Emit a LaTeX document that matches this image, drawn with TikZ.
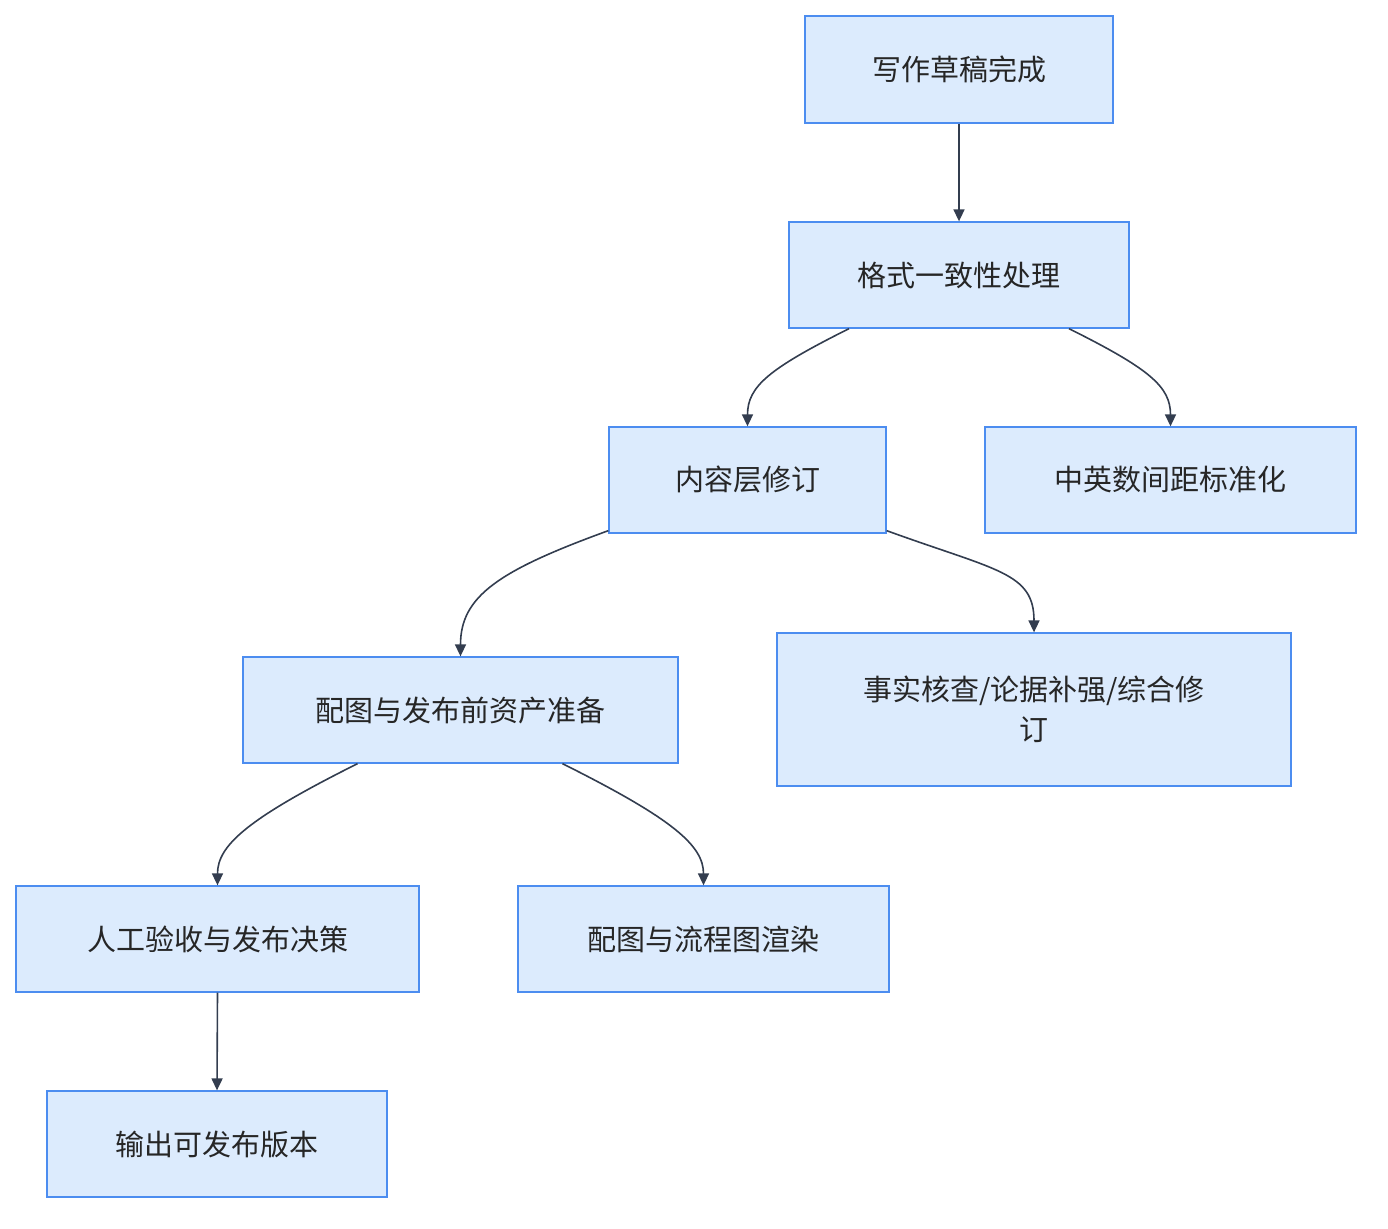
\documentclass[tikz,border=0pt]{standalone}
\usepackage{fontspec}
\setmainfont{Noto Sans CJK SC}
\usetikzlibrary{arrows.meta}
\definecolor{bfill}{HTML}{DCEBFD}
\definecolor{bdraw}{HTML}{4C8DF0}
\definecolor{edge}{HTML}{333D4F}
\begin{document}
\begin{tikzpicture}[x=1pt,y=-1pt,
  box/.style={draw=bdraw,fill=bfill,line width=1.3pt,font=\fontsize{29}{40}\selectfont,text=black!85,align=center,inner sep=0pt},
  e/.style={draw=edge,line width=1.6pt,-{Triangle[length=12pt,width=11pt]}}]
\useasboundingbox (0,0) rectangle (1388,1228);
\newcommand\bx[6]{\node[box,minimum width={#4-#2},minimum height={#5-#3}] (#1) at ({(#2+#4)/2},{(#3+#5)/2}) {#6};}
\bx{A}{805}{16}{1113}{123}{写作草稿完成}
\bx{B}{789}{222}{1129}{328}{格式一致性处理}
\bx{C}{609}{427}{886}{533}{内容层修订}
\bx{D}{985}{427}{1356}{533}{中英数间距标准化}
\bx{E}{243}{657}{678}{763}{配图与发布前资产准备}
\bx{F}{777}{633}{1291}{786}{事实核查/论据补强/综合修\\订}
\bx{G}{16}{886}{419}{992}{人工验收与发布决策}
\bx{H}{518}{886}{889}{992}{配图与流程图渲染}
\bx{I}{47}{1091}{387}{1197}{输出可发布版本}
\draw[e] (A.south) -- (B.north);
\draw[e] (B.south)++(-110,0) .. controls +(-80,40) and +(0,-40) .. (C.north);
\draw[e] (B.south)++(110,0) .. controls +(80,40) and +(0,-40) .. (D.north);
\draw[e] (C.south west)++(0,-3) .. controls +(-110,40) and +(0,-60) .. (E.north);
\draw[e] (C.south east)++(0,-3) .. controls +(110,40) and +(0,-60) .. (F.north);
\draw[e] (E.south)++(-103,0) .. controls +(-110,55) and +(0,-40) .. (G.north);
\draw[e] (E.south)++(102,0) .. controls +(110,55) and +(0,-40) .. (H.north);
\draw[e] (G.south) -- (I.north);
\end{tikzpicture}
\end{document}
